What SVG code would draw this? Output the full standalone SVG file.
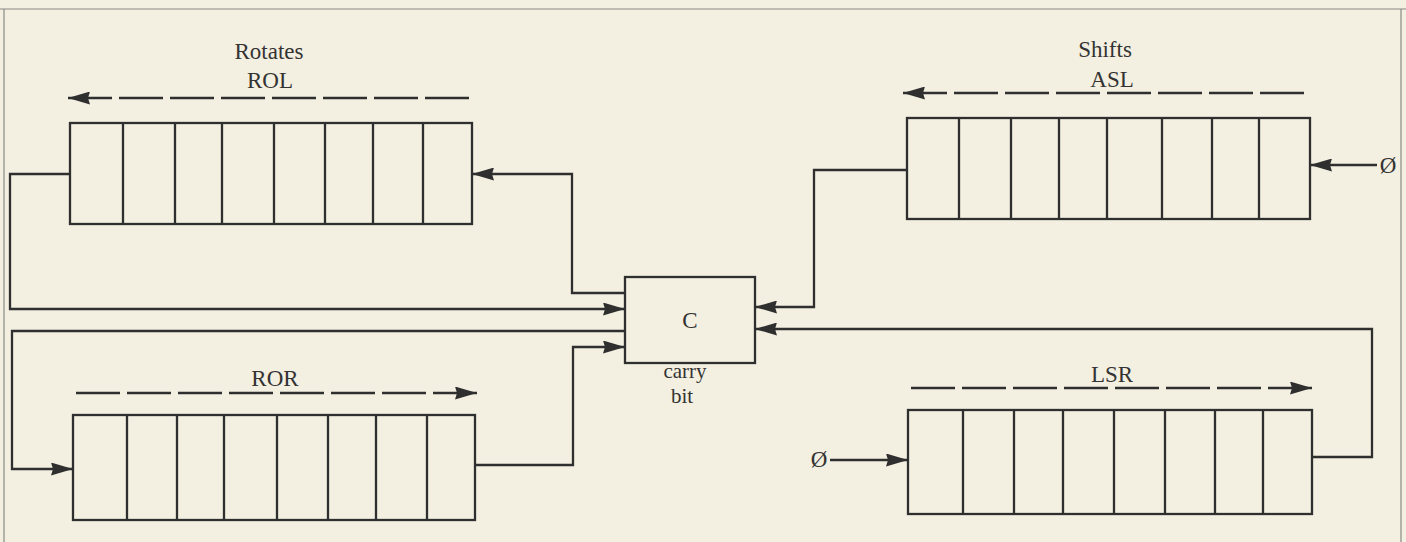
<svg xmlns="http://www.w3.org/2000/svg" width="1406" height="542" viewBox="0 0 1406 542">
  <defs>
    <style>
      .ln { fill: none; stroke: #2f2f2f; stroke-width: 2.3; }
      .dash { fill: none; stroke: #2f2f2f; stroke-width: 2.4; stroke-dasharray: 44 7; }
      .reg { fill: none; stroke: #2f2f2f; stroke-width: 2.3; }
      .frame { fill: none; stroke: #8a8a84; stroke-width: 1.2; }
      .lbl { font-family: "Liberation Serif", "Times New Roman", serif; font-size: 23px; fill: #333; text-anchor: middle; }
      .sm { font-size: 21px; }
    </style>
    <marker id="ah" viewBox="0 0 22 13" refX="22" refY="6.5" markerWidth="22" markerHeight="13" markerUnits="userSpaceOnUse" orient="auto-start-reverse">
      <path d="M0,0 L22,6.5 L0,13 L2,6.5 z" fill="#2f2f2f"/>
    </marker>
  </defs>

  <rect x="0" y="0" width="1406" height="542" fill="#f3efe1"/>

  <g id="frame">
    <line class="frame" x1="0" y1="9" x2="1406" y2="9"/>
    <line class="frame" x1="4" y1="9" x2="4" y2="542"/>
    <line class="frame" x1="1401" y1="9" x2="1401" y2="542"/>
  </g>

  <g id="titles">
    <text class="lbl" x="269" y="59">Rotates</text>
    <text class="lbl" x="1105" y="57">Shifts</text>
  </g>

  <g id="rol">
    <text class="lbl" x="270" y="88">ROL</text>
    <path class="dash" d="M68,98 H473" marker-start="url(#ah)"/>
    <rect class="reg" x="70" y="123" width="402" height="101"/>
    <path class="reg" d="M123,123 V224 M175,123 V224 M222,123 V224 M274,123 V224 M325,123 V224 M373,123 V224 M423,123 V224"/>
  </g>

  <g id="ror">
    <text class="lbl" x="275" y="386">ROR</text>
    <path class="dash" d="M477,393 H73" marker-start="url(#ah)"/>
    <rect class="reg" x="73" y="415" width="402" height="105"/>
    <path class="reg" d="M127,415 V520 M177,415 V520 M224,415 V520 M277,415 V520 M328,415 V520 M376,415 V520 M427,415 V520"/>
  </g>

  <g id="asl">
    <text class="lbl" x="1112" y="87">ASL</text>
    <path class="dash" d="M903,93 H1305" marker-start="url(#ah)"/>
    <rect class="reg" x="907" y="118" width="403" height="101"/>
    <path class="reg" d="M959,118 V219 M1011,118 V219 M1059,118 V219 M1107,118 V219 M1162,118 V219 M1212,118 V219 M1259,118 V219"/>
    <text class="lbl" x="1388" y="173">Ø</text>
  </g>

  <g id="lsr">
    <text class="lbl" x="1112" y="382">LSR</text>
    <path class="dash" d="M1312,388 H907" marker-start="url(#ah)"/>
    <rect class="reg" x="908" y="410" width="404" height="104"/>
    <path class="reg" d="M963,410 V514 M1014,410 V514 M1063,410 V514 M1114,410 V514 M1165,410 V514 M1215,410 V514 M1263,410 V514"/>
    <text class="lbl" x="819" y="467">Ø</text>
  </g>

  <g id="carry">
    <rect class="reg" x="625" y="277" width="130" height="86"/>
    <text class="lbl" x="690" y="328">C</text>
    <text class="lbl sm" x="685" y="378">carry</text>
    <text class="lbl sm" x="682" y="403">bit</text>
  </g>

  <g id="connectors">
    <path class="ln" d="M625,293 H572 V174 H472" marker-end="url(#ah)"/>
    <path class="ln" d="M70,174 H10 V309 H625" marker-end="url(#ah)"/>
    <path class="ln" d="M625,331 H12 V469 H73" marker-end="url(#ah)"/>
    <path class="ln" d="M475,465 H573 V347 H625" marker-end="url(#ah)"/>
    <path class="ln" d="M907,170 H814 V307 H755" marker-end="url(#ah)"/>
    <path class="ln" d="M1312,457 H1372 V329 H755" marker-end="url(#ah)"/>
    <path class="ln" d="M1377,165 H1310" marker-end="url(#ah)"/>
    <path class="ln" d="M830,460 H908" marker-end="url(#ah)"/>
  </g>
</svg>
